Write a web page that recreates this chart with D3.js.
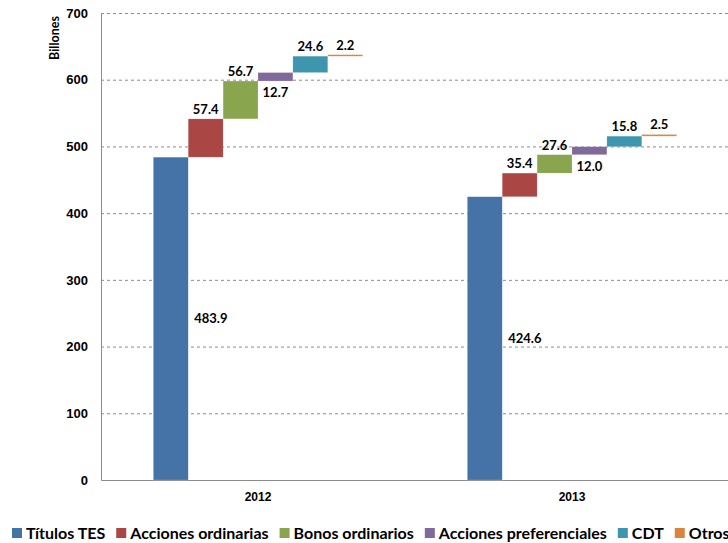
<!DOCTYPE html>
<html><head><meta charset="utf-8">
<script src="https://cdn.jsdelivr.net/npm/d3@7"></script>
<style>
html,body{margin:0;padding:0;background:#fff;overflow:hidden}
svg{display:block;font-family:Lato,"Open Sans",sans-serif}
</style></head>
<body><svg id="c" width="728" height="543"></svg>
<script>
const years = ["2012", "2013"];
const seriesNames = ["Títulos TES", "Acciones ordinarias", "Bonos ordinarios", "Acciones preferenciales", "CDT", "Otros"];
const colors = ["#4572A7", "#AA4643", "#89A54E", "#80699B", "#3D96AE", "#DB843D"];
const values2012 = [483.9, 57.4, 56.7, 12.7, 24.6, 2.2];
const values2013 = [424.6, 35.4, 27.6, 12.0, 15.8, 2.5];
const labelBelow = [false, false, false, true, false, false];
const yTicks = [0, 100, 200, 300, 400, 500, 600, 700];
const yTitle = "Billones";

const svg = d3.select("#c");
const m = {l: 101, t: 13, b: 63};
const W = 728, H = 543;
const plotW = 628, plotH = H - m.t - m.b;

const y = d3.scaleLinear().domain([0, 700]).range([m.t + plotH, m.t]);
const x0 = d3.scaleBand().domain(years).range([m.l, m.l + plotW]).paddingInner(0).paddingOuter(0);
const x1 = d3.scaleBand().domain(d3.range(seriesNames.length)).range([0, x0.bandwidth()]).paddingInner(0).paddingOuter(1.5);

// gridlines
svg.append("g").selectAll("line").data(yTicks.filter(d => d > 0)).join("line")
  .attr("x1", m.l).attr("x2", m.l + plotW)
  .attr("y1", d => y(d) + 0.5).attr("y2", d => y(d) + 0.5)
  .attr("stroke", "#8c8c8c").attr("stroke-width", 1).attr("stroke-dasharray", "3,3");

// y axis
const ya = svg.append("g").attr("transform", `translate(${m.l},0)`)
  .call(d3.axisLeft(y).tickValues(yTicks).tickSize(0).tickPadding(13));
ya.select(".domain").attr("stroke", "#8c8c8c");
ya.selectAll("text").attr("font-size", 13).attr("font-weight", "bold").attr("fill", "#000");

// x axis
const xa = svg.append("g").attr("transform", `translate(0,${m.t + plotH})`)
  .call(d3.axisBottom(x0).tickSize(0).tickPadding(12));
xa.select(".domain").attr("stroke", "#8c8c8c");
xa.selectAll("text").attr("font-size", 12).attr("font-weight", "bold").attr("fill", "#000");

svg.append("text").attr("transform", `translate(59,${m.t + 25}) rotate(-90)`)
  .attr("text-anchor", "middle").attr("font-size", 12.5).attr("font-weight", "bold").text(yTitle);

const data = [values2012, values2013];
years.forEach((yr, yi) => {
  const vals = data[yi];
  let cum = 0;
  const g = svg.append("g");
  vals.forEach((v, i) => {
    const base = cum; cum += v;
    const bx = x0(yr) + x1(i);
    const bw = x1.bandwidth();
    g.append("rect").attr("x", bx).attr("width", bw)
      .attr("y", y(cum)).attr("height", Math.max(1.5, y(base) - y(cum)))
      .attr("fill", colors[i]).attr("stroke", "rgba(255,255,255,0.35)").attr("stroke-width", 0.5);
    const t = g.append("text").attr("font-size", 13).attr("font-weight", "bold").attr("fill", "#000")
      .text(v.toFixed(1));
    if (i === 0) {
      t.attr("x", bx + bw + 6).attr("y", y((base + cum) / 2)).attr("dy", "0.35em");
    } else if (labelBelow[i]) {
      t.attr("x", bx + bw / 2).attr("y", y(base) + 6).attr("dy", "0.8em").attr("text-anchor", "middle");
    } else {
      t.attr("x", bx + bw / 2).attr("y", y(cum) - 5).attr("text-anchor", "middle");
    }
  });
});

// legend
const lg = svg.append("g").attr("transform", `translate(12,${H - 4})`);
let lx = 0;
seriesNames.forEach((n, i) => {
  lg.append("rect").attr("x", lx).attr("y", -11).attr("width", 10).attr("height", 10).attr("fill", colors[i]);
  const t = lg.append("text").attr("x", lx + 14).attr("y", 0).attr("font-size", 16).attr("font-weight", "bold")
    .attr("fill", "#000").text(n);
  lx += 14 + t.node().getComputedTextLength() + 11;
});
</script></body></html>
